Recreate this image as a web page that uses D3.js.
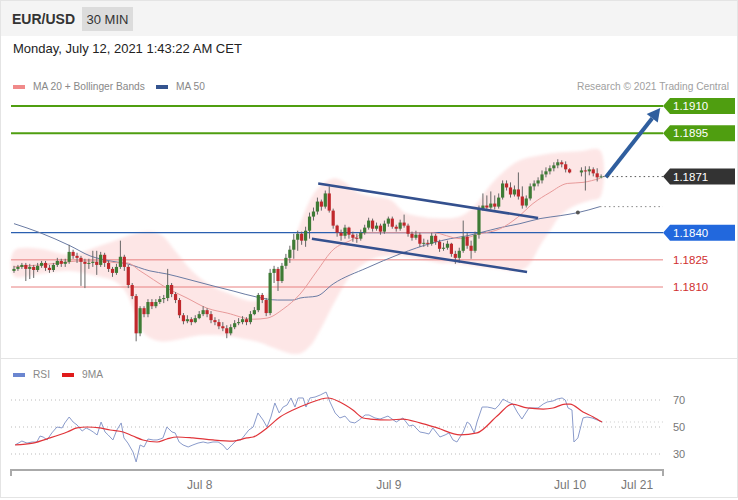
<!DOCTYPE html>
<html>
<head>
<meta charset="utf-8">
<script src="https://cdn.jsdelivr.net/npm/d3@7"></script>
<style>
  body { margin: 0; background: #fff; }
  svg { display: block; font-family: 'Liberation Sans', Arial, sans-serif; }
</style>
</head>
<body>
<div id="app"></div>
<script>
// EUR/USD 30 min candles
const firstOpen = 1.18189
const closes = [1.18200,1.18211,1.18222,1.18200,1.18211,1.18194,1.18217,1.18233,1.18206,1.18194,1.18222,1.18244,1.18228,1.18239,1.18294,1.18272,1.18261,1.18239,1.18228,1.18233,
  1.18239,1.18222,1.18278,1.18233,1.18200,1.18178,1.18211,1.18267,1.18211,1.18111,1.18050,1.17844,1.17983,1.17950,1.18017,1.17994,1.18017,1.18033,1.18039,1.18111,
  1.18061,1.18028,1.17944,1.17911,1.17922,1.17906,1.17928,1.17950,1.17972,1.17950,1.17917,1.17906,1.17883,1.17872,1.17844,1.17878,1.17900,1.17906,1.17922,1.17906,
  1.17950,1.17972,1.18056,1.18028,1.17956,1.18178,1.18200,1.18133,1.18217,1.18261,1.18306,1.18361,1.18394,1.18356,1.18411,1.18489,1.18517,1.18572,1.18544,1.18617,
  1.18522,1.18439,1.18400,1.18383,1.18428,1.18389,1.18372,1.18367,1.18400,1.18428,1.18467,1.18422,1.18439,1.18406,1.18450,1.18478,1.18433,1.18422,1.18456,1.18439,
  1.18394,1.18372,1.18389,1.18339,1.18344,1.18339,1.18383,1.18350,1.18311,1.18317,1.18339,1.18283,1.18261,1.18300,1.18378,1.18328,1.18300,1.18389,1.18533,1.18550,
  1.18539,1.18561,1.18544,1.18594,1.18672,1.18650,1.18611,1.18639,1.18600,1.18550,1.18589,1.18656,1.18672,1.18689,1.18722,1.18739,1.18756,1.18772,1.18789,1.18778,
  1.18750,1.18733,1.18744,1.18739,1.18750,1.18728,1.18706,1.18711]
const highs = [1.18217,1.18222,1.18233,1.18233,1.18228,1.18222,1.18233,1.18244,1.18244,1.18222,1.18233,1.18261,1.18256,1.18256,1.18333,1.18306,1.18289,1.18272,1.18256,1.18256,
  1.18300,1.18300,1.18294,1.18289,1.18244,1.18211,1.18228,1.18356,1.18278,1.18222,1.18122,1.18061,1.17994,1.17994,1.18033,1.18033,1.18033,1.18050,1.18056,1.18200,
  1.18122,1.18072,1.18039,1.17956,1.17944,1.17933,1.17944,1.17967,1.17994,1.17983,1.17967,1.17933,1.17922,1.17906,1.17889,1.17894,1.17917,1.17928,1.17939,1.17933,
  1.17967,1.17989,1.18067,1.18067,1.18039,1.18200,1.18217,1.18211,1.18233,1.18283,1.18328,1.18394,1.18411,1.18406,1.18433,1.18511,1.18539,1.18594,1.18583,1.18633,
  1.18656,1.18533,1.18444,1.18417,1.18444,1.18433,1.18406,1.18394,1.18417,1.18444,1.18483,1.18478,1.18456,1.18450,1.18467,1.18489,1.18489,1.18444,1.18472,1.18500,
  1.18450,1.18406,1.18411,1.18400,1.18367,1.18361,1.18400,1.18394,1.18361,1.18344,1.18356,1.18344,1.18300,1.18317,1.18467,1.18400,1.18356,1.18406,1.18550,1.18617,
  1.18606,1.18628,1.18606,1.18617,1.18689,1.18689,1.18678,1.18661,1.18733,1.18656,1.18606,1.18672,1.18689,1.18706,1.18744,1.18761,1.18772,1.18789,1.18806,1.18800,
  1.18794,1.18756,1.18761,1.18767,1.18767,1.18761,1.18756,1.18722]
const lows = [1.18178,1.18189,1.18200,1.18133,1.18144,1.18150,1.18183,1.18206,1.18189,1.18178,1.18183,1.18211,1.18211,1.18211,1.18228,1.18256,1.18233,1.18106,1.18094,1.18200,
  1.18211,1.18167,1.18211,1.18211,1.18183,1.18156,1.18167,1.18200,1.18189,1.18094,1.18033,1.17800,1.17828,1.17933,1.17933,1.17978,1.17983,1.18006,1.18011,1.18022,
  1.18044,1.18011,1.17928,1.17894,1.17900,1.17889,1.17900,1.17922,1.17939,1.17933,1.17900,1.17889,1.17867,1.17856,1.17817,1.17833,1.17867,1.17889,1.17894,1.17889,
  1.17894,1.17944,1.17961,1.18011,1.17939,1.17944,1.18122,1.18078,1.18122,1.18200,1.18233,1.18256,1.18300,1.18333,1.18322,1.18367,1.18467,1.18500,1.18522,1.18533,
  1.18511,1.18422,1.18378,1.18356,1.18367,1.18367,1.18350,1.18344,1.18356,1.18389,1.18417,1.18406,1.18411,1.18389,1.18394,1.18433,1.18422,1.18406,1.18411,1.18428,
  1.18378,1.18356,1.18361,1.18322,1.18322,1.18322,1.18328,1.18333,1.18294,1.18300,1.18306,1.18267,1.18228,1.18233,1.18289,1.18311,1.18256,1.18289,1.18367,1.18522,
  1.18522,1.18528,1.18528,1.18533,1.18583,1.18633,1.18594,1.18600,1.18583,1.18533,1.18539,1.18578,1.18633,1.18656,1.18672,1.18706,1.18722,1.18739,1.18756,1.18761,
  1.18733,1.18728,1.18711,1.18633,1.18717,1.18711,1.18683,1.18700]
// weekend: Friday's last candle index, then empty slots
const lastFridayIdx = 141
const weekendGap = 2

// indicator readings: [slot, value]
const ma20 = [[0,1.18211],[6.6,1.18222],[11.7,1.18233],[16.8,1.18244],[21.8,1.18244],[26.9,1.18233],[28.7,1.18233],[32,1.18189],[38.8,1.18094],[43.9,1.18039],
  [49,1.17983],[54.1,1.17956],[60.7,1.17922],[64.2,1.17928],[68.3,1.17978],[72.6,1.18061],[76.9,1.18189],[81,1.18306],[85.3,1.18356],[89.6,1.18400],
  [93.7,1.18400],[106.3,1.18400],[113.2,1.18367],[118.3,1.18394],[123.4,1.18422],[127.7,1.18483],[131.7,1.18561],[136,1.18622],[140.4,1.18672],[144.4,1.18678],[148.7,1.18700]]
const ma50 = [[0,1.18450],[6.6,1.18400],[14.2,1.18328],[19.3,1.18272],[24.4,1.18244],[28.7,1.18228],[34.5,1.18189],[38.8,1.18172],[43.9,1.18144],[50.5,1.18106],
  [55.6,1.18078],[61.7,1.18044],[66.8,1.18028],[70.8,1.18028],[72.6,1.18039],[76.9,1.18050],[81,1.18117],[89.6,1.18206],[98,1.18283],[106.3,1.18344],
  [110.7,1.18367],[115,1.18383],[118.3,1.18400],[123.4,1.18428],[128.4,1.18450],[133.5,1.18478],[138.6,1.18494],[143.1,1.18511],[148.7,1.18544]]
const bandUpper = [[0,1.18300],[6.6,1.18311],[14.2,1.18278],[21.8,1.18328],[26.9,1.18367],[30.7,1.18394],[34.5,1.18406],[37.6,1.18383],[40.9,1.18300],[44.7,1.18200],
  [49.7,1.18111],[54.8,1.18061],[59.9,1.18022],[62.9,1.18033],[65.5,1.18089],[68,1.18189],[70.6,1.18328],[73.1,1.18478],[75.6,1.18600],[78.2,1.18667],
  [81,1.18700],[84,1.18678],[87.3,1.18622],[90.9,1.18600],[95.4,1.18583],[99.2,1.18511],[103,1.18489],[108.1,1.18478],[113.2,1.18489],[117,1.18550],
  [120.8,1.18661],[124.6,1.18744],[128.4,1.18800],[133.5,1.18828],[138.6,1.18844],[143.7,1.18850],[148.7,1.18856]]
const bandLower = [[0,1.18161],[6.6,1.18172],[14.2,1.18189],[21.8,1.18156],[25.6,1.18133],[28.2,1.18078],[30.7,1.17956],[33.2,1.17839],[37.1,1.17800],[42.1,1.17811],
  [47.2,1.17833],[52.3,1.17833],[57.4,1.17817],[62.4,1.17794],[66.2,1.17761],[70.1,1.17733],[72.6,1.17733],[75.1,1.17772],[78.2,1.17883],[81.5,1.18022],
  [85.3,1.18161],[89.1,1.18233],[92.9,1.18267],[98,1.18272],[103,1.18256],[108.1,1.18233],[113.2,1.18228],[118.3,1.18211],[123.4,1.18200],[127.2,1.18189],
  [130.2,1.18211],[133.5,1.18328],[136,1.18411],[138.6,1.18494],[142.4,1.18550],[146.2,1.18578],[148.7,1.18594]]
const rsi = [[0.3,36.7],[2,39.6],[3.3,38.1],[4.6,38.9],[5.8,38.9],[6.6,43.3],[7.4,42.6],[8.4,40.4],[9.6,45.6],[10.9,50],[12.2,49.3],[12.9,53],[14,57.4],[15,53.7],
  [16,51.5],[17.3,47],[18.3,49.3],[19.3,47.8],[20.1,46.3],[21.1,44.1],[22.1,53.7],[23.1,46.3],[23.9,44.1],[25.1,40.4],[26.1,47.8],[27.2,53],[27.9,41.9],
  [28.9,38.1],[30.2,31.5],[31,24.1],[32,36.7],[33,35.2],[34,41.1],[35.3,40.4],[36.3,40.4],[37.1,41.1],[37.8,41.9],[38.8,50],[40.1,46.3],[40.9,45.6],
  [41.9,38.9],[42.9,36.7],[44.2,35.2],[45.4,36.7],[46.7,38.1],[48,38.9],[49.2,38.1],[50.5,38.9],[51.8,38.9],[53,36.7],[54.1,33],[55.3,36.7],[56.6,40.4],
  [57.6,40.4],[58.6,44.1],[59.6,47.8],[60.7,50],[61.9,60.4],[63.2,55.2],[64.2,50],[65.2,57.4],[66.2,67.8],[67.3,60.4],[68.3,64.8],[69.3,66.3],[70.3,71.5],
  [71.3,64.8],[72.1,71.5],[73.4,71.5],[74.1,64.8],[75.1,71.5],[76.4,72.2],[77.7,73.7],[79.2,75.9],[80.2,68.5],[81.5,60.4],[82.7,56.7],[84,58.1],[85.3,53.7],
  [86.5,53],[87.6,55.2],[89.1,58.9],[90.1,58.9],[91.6,56.7],[92.9,55.9],[94.9,58.1],[97,53.7],[98.7,56.7],[100.3,50.7],[101.3,51.5],[103,46.3],[104.3,45.6],
  [105.3,44.8],[106.3,49.3],[108.1,42.6],[109.4,44.1],[110.4,45.6],[111.4,40.4],[112.4,38.9],[114,46.3],[115,53.7],[115.7,52.2],[116.8,45.6],[117.5,53.7],
  [118.8,64.8],[120.1,64.8],[121.3,64.1],[122.1,63.3],[123.1,66.3],[124.1,70.7],[125.4,68.5],[126.6,67],[127.7,61.1],[128.9,55.9],[129.7,59.6],[130.7,64.1],
  [131.7,64.1],[133,64.1],[134.3,67],[135.3,68.5],[136.8,69.3],[137.8,70.7],[139.1,71.5],[139.9,70],[140.6,64.1],[141.6,62.6],[142.1,38.9],[143.1,41.9],
  [144.4,56.7],[145.4,57.4],[146.7,56.7],[148,55.2],[149.2,53.7]]
const rsiMa = [[0.3,36.7],[4.8,38.1],[9.1,41.9],[13.5,46.3],[16,49.3],[18.5,50],[21.8,49.3],[24.4,47.8],[27.7,46.3],[30.2,43.3],[32.7,40.4],[36.3,38.9],
  [38.8,41.1],[41.4,42.6],[45.4,41.9],[50.5,40.4],[55.6,39.6],[59.1,41.9],[60.7,42.6],[64.2,49.3],[67.5,57.4],[70.8,62.6],[74.4,67],[79.7,71.5],[82.7,68.5],
  [86,62.6],[88.6,56.7],[90.4,55.9],[95.4,55.2],[98.7,55.9],[103,53],[107.4,49.3],[113.2,44.1],[117.5,45.6],[122.6,58.1],[126.4,67],[130.2,64.1],[134.3,63.3],
  [136.8,64.1],[139.9,67],[141.1,67],[144.4,61.1],[147,57.4],[149.2,53.7]]

// drawn objects
const channelTop = [[77.2,1.18672],[133,1.18481]]
const channelBottom = [[75.6,1.18367],[130.2,1.18183]]
const targetArrow = [[150.2,1.18706],[164,1.19089]]
const greenLevels = [1.1910, 1.1895]
const blueLevels = [1.1840]
const redLevels = [1.1825, 1.1810]
const lastPrice = 1.1871
const lastMa50 = 1.18544
const lastRsi = 53.7
const rsiTicks = [70, 50, 30]
const dateSlots = [47, 95, 141, 158]
const dateLabels = ['Jul 8', 'Jul 9', 'Jul 10', 'Jul 21']

const width = 738
const height = 500

const svg = d3.select('#app').append('svg').attr('width', width).attr('height', height)

svg.append('defs').append('filter').attr('id', 'soft')
  .append('feGaussianBlur').attr('stdDeviation', 1.8)

const x = d3.scaleLinear().domain([-0.76, 164.7]).range([11, 663])
const y = d3.scaleLinear().domain([1.1810, 1.1910]).range([287, 106])
const yr = d3.scaleLinear().domain([30, 70]).range([454, 400])
const slot = i => i > lastFridayIdx ? i + weekendGap : i

// frame + header
svg.append('rect').attr('x', 0.5).attr('y', 0.5).attr('width', width - 1).attr('height', 497)
  .attr('fill', '#fff').attr('stroke', '#e4e4e4')
svg.append('rect').attr('x', 1).attr('y', 1).attr('width', width - 2).attr('height', 35).attr('fill', '#f4f4f4')
svg.append('line').attr('x1', 0).attr('x2', width).attr('y1', 358.5).attr('y2', 358.5).attr('stroke', '#e4e4e4')
svg.append('text').attr('x', 12).attr('y', 24).text('EUR/USD')
  .attr('font-size', 14).attr('font-weight', 'bold').attr('fill', '#333')
svg.append('rect').attr('x', 82).attr('y', 7).attr('width', 51).attr('height', 24).attr('fill', '#dcdcdc')
svg.append('text').attr('x', 107.5).attr('y', 24).attr('text-anchor', 'middle').text('30 MIN')
  .attr('font-size', 13).attr('fill', '#333')
svg.append('text').attr('x', 13).attr('y', 53).text('Monday, July 12, 2021 1:43:22 AM CET')
  .attr('font-size', 13).attr('fill', '#222')

// legends
const legend = (items, ly) => items.forEach(([lx, color, label]) => {
  svg.append('rect').attr('x', lx).attr('y', ly - 5).attr('width', 12).attr('height', 4).attr('fill', color)
  svg.append('text').attr('x', lx + 20).attr('y', ly).text(label).attr('font-size', 10.2).attr('fill', '#888')
})
legend([[13, '#f08a8a', 'MA 20 + Bollinger Bands'], [156, '#34548f', 'MA 50']], 90)
legend([[13, '#6b86d0', 'RSI'], [62, '#e01b1b', '9MA']], 378)
svg.append('text').attr('x', 729).attr('y', 90).attr('text-anchor', 'end')
  .text('Research © 2021 Trading Central').attr('font-size', 10.2).attr('fill', '#a0a0a0')

// bollinger band
const bandPoly = bandUpper.concat(bandLower.slice().reverse())
svg.append('path')
  .attr('d', d3.line().x(d => x(d[0])).y(d => y(d[1])).curve(d3.curveCatmullRomClosed)(bandPoly))
  .attr('fill', '#fde6e6').attr('filter', 'url(#soft)')

// levels
const levelLine = (p, color, w) => svg.append('line').attr('x1', 11).attr('x2', 663)
  .attr('y1', y(p)).attr('y2', y(p)).attr('stroke', color).attr('stroke-width', w)
greenLevels.forEach(p => levelLine(p, '#4f9e10', 2))
blueLevels.forEach(p => levelLine(p, '#2a5fb0', 1.3))
redLevels.forEach(p => levelLine(p, '#e88080', 1))

const ma = d3.line().x(d => x(d[0])).y(d => y(d[1])).curve(d3.curveMonotoneX)
svg.append('path').attr('d', ma(ma50)).attr('fill', 'none').attr('stroke', '#6a7ba3').attr('stroke-width', 1)
svg.append('path').attr('d', ma(ma20)).attr('fill', 'none').attr('stroke', '#e89a9a').attr('stroke-width', 1)

// candles
const candles = closes.map((c, i) => ({
  s: slot(i), o: i === 0 ? firstOpen : closes[i - 1], c, h: highs[i], l: lows[i]
}))
const cg = svg.append('g')
cg.selectAll('line').data(candles).enter().append('line')
  .attr('x1', d => x(d.s)).attr('x2', d => x(d.s))
  .attr('y1', d => y(d.h)).attr('y2', d => y(d.l))
  .attr('stroke', '#666').attr('stroke-width', 1)
cg.selectAll('rect').data(candles).enter().append('rect')
  .attr('x', d => x(d.s) - 1.6).attr('width', 3.2)
  .attr('y', d => y(Math.max(d.o, d.c)))
  .attr('height', d => Math.max(1, Math.abs(y(d.o) - y(d.c))))
  .attr('fill', d => d.c >= d.o ? '#3e7b35' : '#c0282c')

// channel + arrow
const seg = d3.line().x(d => x(d[0])).y(d => y(d[1]))
;[channelTop, channelBottom].forEach(c => svg.append('path').attr('d', seg(c))
  .attr('stroke', '#34508e').attr('stroke-width', 2.5).attr('fill', 'none'))

const [ax1, ay1] = [x(targetArrow[0][0]), y(targetArrow[0][1])]
const [ax2, ay2] = [x(targetArrow[1][0]), y(targetArrow[1][1])]
const len = Math.hypot(ax2 - ax1, ay2 - ay1)
const ux = (ax2 - ax1) / len, uy = (ay2 - ay1) / len
const bx = ax2 - ux * 13, by = ay2 - uy * 13
svg.append('line').attr('x1', ax1).attr('y1', ay1).attr('x2', bx).attr('y2', by)
  .attr('stroke', '#2f5e9e').attr('stroke-width', 4)
svg.append('polygon')
  .attr('points', [[ax2, ay2], [bx - uy * 7, by + ux * 7], [bx + uy * 7, by - ux * 7]].join(' '))
  .attr('fill', '#2f5e9e')

// last price / ma50 guides
const lastSlot = slot(closes.length - 1)
svg.append('line').attr('x1', x(lastSlot) + 2).attr('x2', 663).attr('y1', y(lastPrice)).attr('y2', y(lastPrice))
  .attr('stroke', '#555').attr('stroke-dasharray', '1.5,3')
svg.append('line').attr('x1', x(ma50[ma50.length - 1][0])).attr('x2', 663)
  .attr('y1', y(lastMa50)).attr('y2', y(lastMa50))
  .attr('stroke', '#888').attr('stroke-dasharray', '1.5,3')
svg.append('circle').attr('cx', x(ma50[ma50.length - 2][0])).attr('cy', y(ma50[ma50.length - 2][1]))
  .attr('r', 2).attr('fill', '#555')

// price tags
const tag = (p, color) => {
  const ty = y(p)
  svg.append('path')
    .attr('d', `M663,${ty} L670,${ty - 8} L735,${ty - 8} L735,${ty + 8} L670,${ty + 8} Z`)
    .attr('fill', color)
  svg.append('text').attr('x', 673).attr('y', ty + 4).text(p.toFixed(4))
    .attr('font-size', 11.5).attr('fill', '#fff')
}
greenLevels.forEach(p => tag(p, '#4f9e10'))
tag(lastPrice, '#333')
blueLevels.forEach(p => tag(p, '#2268dd'))
redLevels.forEach(p => svg.append('text').attr('x', 673).attr('y', y(p) + 4).text(p.toFixed(4))
  .attr('font-size', 11.5).attr('fill', '#d03030'))

// RSI panel
rsiTicks.forEach(v => {
  svg.append('line').attr('x1', 11).attr('x2', 663).attr('y1', yr(v)).attr('y2', yr(v))
    .attr('stroke', '#bbb').attr('stroke-dasharray', '1,3')
  svg.append('text').attr('x', 673).attr('y', yr(v) + 4).text(v).attr('font-size', 11).attr('fill', '#777')
})
svg.append('line').attr('x1', x(rsi[rsi.length - 1][0])).attr('x2', 663)
  .attr('y1', yr(lastRsi)).attr('y2', yr(lastRsi)).attr('stroke', '#ccc').attr('stroke-dasharray', '1,3')

const rl = d3.line().x(d => x(d[0])).y(d => yr(d[1]))
svg.append('path').attr('d', rl(rsi)).attr('fill', 'none').attr('stroke', '#8a9bcb').attr('stroke-width', 1)
svg.append('path').attr('d', rl.curve(d3.curveMonotoneX)(rsiMa)).attr('fill', 'none')
  .attr('stroke', '#e0353a').attr('stroke-width', 1.2)

// time axis
const axis = d3.axisBottom(x).tickValues(dateSlots).tickFormat((d, i) => dateLabels[i])
  .tickSize(0).tickPadding(10)
const ag = svg.append('g').attr('transform', 'translate(0,470)').call(axis)
ag.select('.domain').attr('d', 'M11,6V0H663V6').attr('stroke', '#aaa').attr('stroke-width', 2).attr('fill', 'none')
ag.selectAll('text').attr('font-size', 12).attr('fill', '#777').attr('font-family', 'Liberation Sans, Arial, sans-serif')
</script>
</body>
</html>
